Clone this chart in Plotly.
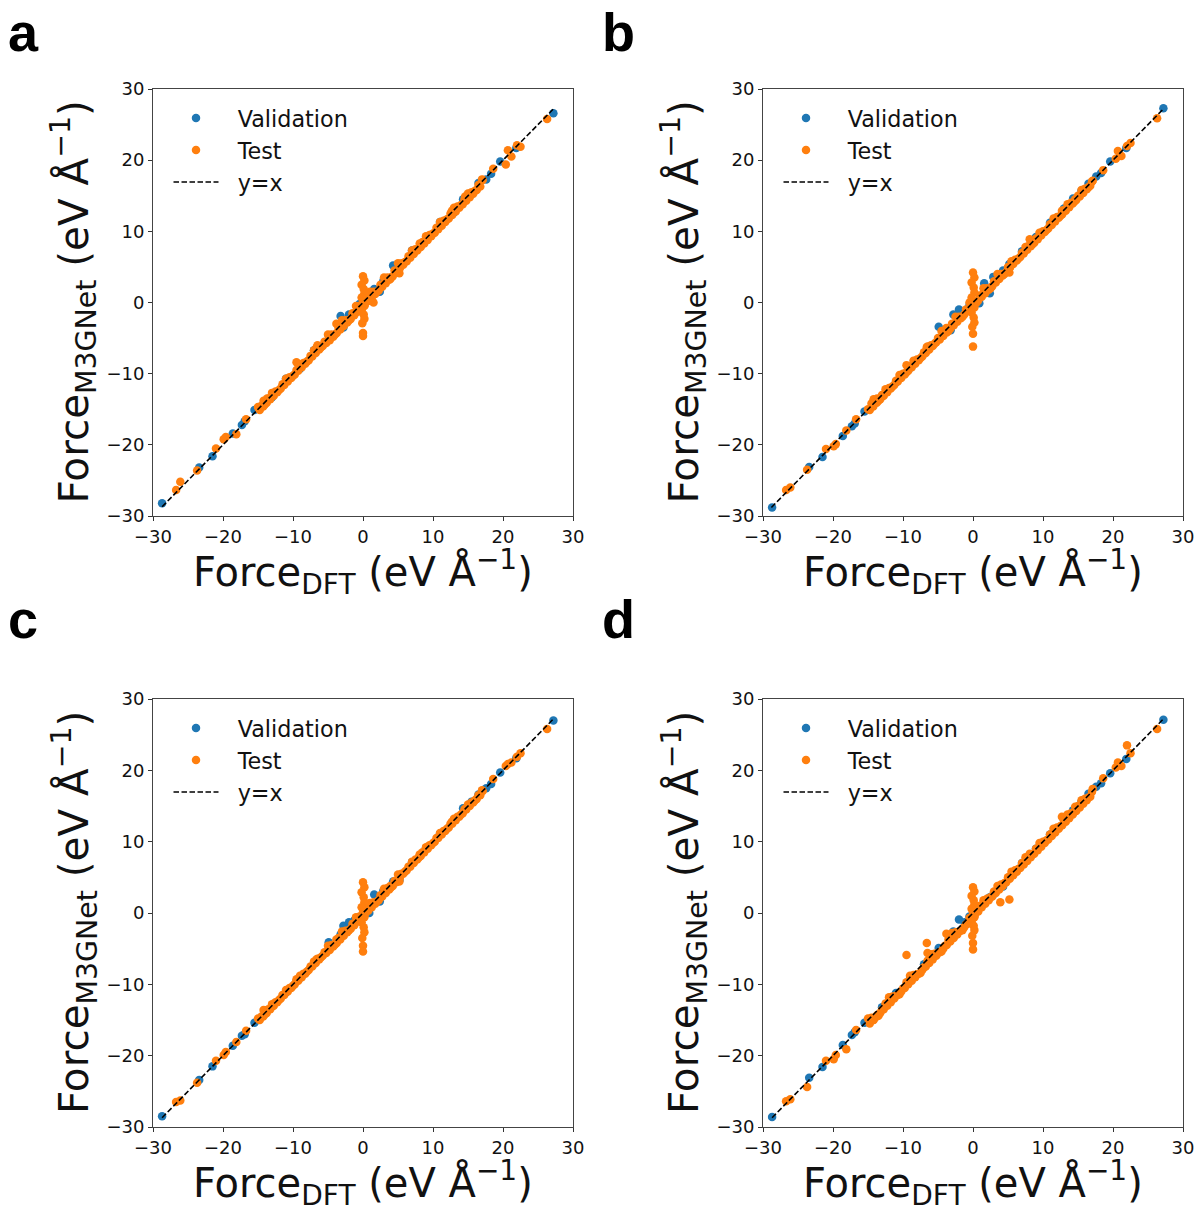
import plotly.graph_objects as go

# ---------------------------------------------------------------------------
# Reference DFT forces (eV/Å); the same structures are predicted by all models
# ---------------------------------------------------------------------------
VAL_DFT = [-28.7, -23.4, -21.5, -18.6, -17.3, -16.9, -15.5, -13.0, -11.0, -9.0,
           -7.0, -4.9, -3.2, -2.8, -2.0, -1.2, -0.5, 0.9, 1.6, 2.4,
           2.9, 4.3, 5.2, 7.0, 9.0, 11.0, 13.0, 14.3, 15.5, 16.5,
           17.6, 18.3, 19.6, 21.9, 27.2]

TEST_DFT_SPARSE = [-26.7, -26.1, -23.7, -21.0, -19.9, -19.6, -18.1, -16.7, -14.2, -13.7,
                   -9.5, -6.6, -6.5, -3.8, 1.5, 3.9, 5.2, 5.3, 8.1, 12.7,
                   14.6, 17.1, 18.6, 20.4, 20.7, 21.2, 22.0, 22.5, 26.3]

TEST_DFT_BAND = [-15.0, -14.5, -14.0, -13.5, -13.0, -12.5, -12.0, -11.5, -11.0, -10.5,
                 -10.0, -9.5, -9.0, -8.5, -8.0, -7.5, -7.0, -6.5, -6.0, -5.5,
                 -5.0, -4.5, -4.0, -3.5, -3.0, -2.5, -2.0, -1.5, -1.0, -0.5,
                 0.0, 0.5, 1.0, 1.5, 2.0, 2.5, 3.0, 3.5, 4.0, 4.5,
                 5.0, 5.5, 6.0, 6.5, 7.0, 7.5, 8.0, 8.5, 9.0, 9.5,
                 10.0, 10.5, 11.0, 11.5, 12.0, 12.5, 13.0, 13.5, 14.0, 14.5,
                 15.0, 15.5, 16.0, 16.5, 17.0]

TEST_DFT_BAND2 = [-14.75, -14.25, -13.75, -13.25, -12.75, -12.25, -11.75, -11.25, -10.75, -10.25,
                  -9.75, -9.25, -8.75, -8.25, -7.75, -7.25, -6.75, -6.25, -5.75, -5.25,
                  -4.75, -4.25, -3.75, -3.25, -2.75, -2.25, -1.75, -1.25, -0.75, -0.25,
                  0.25, 0.75, 1.25, 1.75, 2.25, 2.75, 3.25, 3.75, 4.25, 4.75,
                  5.25, 5.75, 6.25, 6.75, 7.25, 7.75, 8.25, 8.75, 9.25, 9.75,
                  10.25, 10.75, 11.25, 11.75, 12.25, 12.75, 13.25, 13.75, 14.25, 14.75,
                  15.25, 15.75, 16.25, 16.75]

TEST_DFT_SPIKE = [0.0, 0.2, -0.2, 0.1, 0.2, -0.2, 0.0, 0.2, -0.2, 0.1, 0.2, -0.1, 0.0, 0.0]

# ---------------------------------------------------------------------------
# M3GNet predictions, one set per panel
# ---------------------------------------------------------------------------
VAL_PRED_A = [-28.2, -23.2, -21.6, -18.4, -17.2, -16.7, -15.1, -13.3, -10.7, -9.3,
              -6.7, -4.6, -1.9, -3.5, -1.7, -1.5, -0.2, 1.1, 1.9, 1.5,
              3.0, 5.2, 5.0, 7.3, 8.7, 11.3, 12.7, 14.5, 15.2, 16.8,
              17.3, 18.1, 19.8, 21.7, 26.6]
TEST_PRED_SPARSE_A = [-26.35, -25.2, -23.6, -20.5, -19.2, -18.9, -18.5, -16.4, -13.8, -13.5,
                      -8.4, -6.3, -6.0, -3.0, 0.0, 3.3, 4.1, 5.0, 8.3, 12.9,
                      14.9, 17.2, 18.8, 19.4, 21.4, 20.5, 22.1, 21.9, 25.8]
TEST_PRED_BAND_A = [-14.7, -14.5, -14.3, -13.5, -12.7, -12.5, -12.3, -11.5, -10.7, -10.5,
                    -10.3, -9.5, -8.7, -8.5, -8.3, -7.5, -6.7, -6.5, -6.3, -5.5,
                    -4.5, -4.5, -4.5, -3.5, -2.5, -2.5, -2.5, -1.5, -0.5, -0.5,
                    -0.5, 0.5, 1.5, 1.5, 1.5, 2.5, 3.5, 3.5, 3.5, 4.5,
                    5.5, 5.5, 5.7, 6.5, 7.3, 7.5, 7.7, 8.5, 9.3, 9.5,
                    9.7, 10.5, 11.3, 11.5, 11.7, 12.5, 13.3, 13.5, 13.7, 14.5,
                    15.3, 15.5, 15.7, 16.5, 17.3]
TEST_PRED_BAND2_A = [-15.1, -14.6, -14.1, -13.6, -13.1, -12.6, -12.1, -11.6, -11.1, -10.6,
                     -10.1, -9.6, -9.1, -8.6, -8.1, -7.6, -7.1, -6.6, -6.1, -5.7,
                     -5.3, -4.8, -4.3, -3.8, -3.3, -2.8, -2.3, -1.8, -1.3, -0.8,
                     -0.3, 0.2, 0.7, 1.2, 1.7, 2.2, 2.7, 3.2, 3.7, 4.2,
                     4.8, 5.3, 5.8, 6.3, 6.8, 7.3, 7.8, 8.3, 8.8, 9.3,
                     9.8, 10.3, 10.8, 11.3, 11.8, 12.3, 12.8, 13.3, 13.8, 14.3,
                     14.8, 15.3, 15.8, 16.3]
TEST_PRED_SPIKE_A = [3.7, 3.1, 2.5, 1.9, 1.3, 0.7, 0.1, -0.5, -1.1, -1.7, -2.3, -2.9, -4.3, -4.7]

VAL_PRED_B = [-28.8, -23.1, -21.7, -18.75, -17.4, -17.0, -15.3, -13.2, -11.2, -9.2,
              -7.2, -3.4, -3.9, -1.7, -1.0, -1.4, -0.4, -0.1, 2.7, 1.3,
              3.6, 4.5, 5.4, 7.2, 9.2, 11.2, 13.2, 14.6, 15.7, 16.7,
              17.7, 18.2, 19.8, 21.7, 27.3]
TEST_PRED_SPARSE_B = [-26.35, -26.0, -23.5, -20.6, -20.2, -19.9, -18.0, -16.4, -13.6, -13.5,
                      -8.8, -6.3, -6.7, -3.6, 1.3, 3.7, 4.2, 5.0, 8.9, 12.9,
                      14.5, 17.1, 18.6, 20.2, 21.3, 20.6, 22.0, 22.4, 25.9]
TEST_PRED_BAND_B = [-15.0, -14.2, -14.0, -13.8, -13.0, -12.2, -12.0, -11.8, -11.0, -10.2,
                    -10.0, -9.8, -9.0, -8.2, -8.0, -7.8, -7.0, -6.2, -6.0, -5.8,
                    -5.0, -4.0, -4.0, -4.0, -3.0, -2.0, -2.0, -2.0, -1.0, 0.0,
                    0.0, 0.0, 1.0, 2.0, 2.0, 2.0, 3.0, 4.0, 4.0, 4.0,
                    5.0, 5.8, 6.0, 6.2, 7.0, 7.8, 8.0, 8.2, 9.0, 9.8,
                    10.0, 10.2, 11.0, 11.8, 12.0, 12.2, 13.0, 13.8, 14.0, 14.2,
                    15.0, 15.8, 16.0, 16.2, 17.0]
TEST_PRED_BAND2_B = [-15.1, -14.6, -14.1, -13.6, -13.1, -12.6, -12.1, -11.6, -11.1, -10.6,
                     -10.1, -9.6, -9.1, -8.6, -8.1, -7.6, -7.1, -6.6, -6.1, -5.6,
                     -5.2, -4.7, -4.2, -3.7, -3.2, -2.7, -2.2, -1.7, -1.2, -0.7,
                     -0.2, 0.3, 0.8, 1.3, 1.8, 2.3, 2.8, 3.3, 3.8, 4.3,
                     4.9, 5.4, 5.9, 6.4, 6.9, 7.4, 7.9, 8.4, 8.9, 9.4,
                     9.9, 10.4, 10.9, 11.4, 11.9, 12.4, 12.9, 13.4, 13.9, 14.4,
                     14.9, 15.4, 15.9, 16.4]
TEST_PRED_SPIKE_B = [4.2, 3.5, 2.8, 2.1, 1.4, 0.7, 0.0, -0.7, -1.4, -2.1, -2.8, -3.4, -4.4, -6.2]

VAL_PRED_C = [-28.5, -23.4, -21.5, -18.6, -17.2, -17.0, -15.4, -13.1, -11.1, -9.1,
              -7.1, -4.1, -3.0, -1.8, -1.3, -1.0, -0.6, 0.0, 2.6, 1.6,
              3.1, 4.4, 4.6, 7.1, 9.1, 11.1, 13.1, 14.7, 15.6, 16.6,
              17.5, 18.1, 19.7, 21.7, 27.0]
TEST_PRED_SPARSE_C = [-26.5, -26.3, -23.8, -20.7, -19.9, -19.5, -18.1, -16.5, -13.6, -13.6,
                      -9.3, -6.5, -6.4, -3.7, 1.3, 3.8, 4.4, 5.2, 8.2, 12.8,
                      14.6, 17.1, 18.8, 20.6, 20.9, 21.1, 21.9, 22.4, 25.8]
TEST_PRED_BAND_C = [-14.8, -14.5, -14.2, -13.5, -12.8, -12.5, -12.2, -11.5, -10.8, -10.5,
                    -10.2, -9.5, -8.8, -8.5, -8.2, -7.5, -6.8, -6.5, -6.2, -5.5,
                    -4.6, -4.5, -4.4, -3.5, -2.6, -2.5, -2.4, -1.5, -0.6, -0.5,
                    -0.4, 0.5, 1.4, 1.5, 1.6, 2.5, 3.4, 3.5, 3.6, 4.5,
                    5.4, 5.5, 5.8, 6.5, 7.2, 7.5, 7.8, 8.5, 9.2, 9.5,
                    9.8, 10.5, 11.2, 11.5, 11.8, 12.5, 13.2, 13.5, 13.8, 14.5,
                    15.2, 15.5, 15.8, 16.5, 17.2]
TEST_PRED_BAND2_C = [-15.0, -14.5, -14.0, -13.5, -13.0, -12.5, -12.0, -11.5, -11.0, -10.5,
                     -10.0, -9.5, -9.0, -8.5, -8.0, -7.5, -7.0, -6.5, -6.0, -5.6,
                     -5.2, -4.7, -4.2, -3.7, -3.2, -2.7, -2.2, -1.7, -1.2, -0.7,
                     -0.2, 0.3, 0.8, 1.3, 1.8, 2.3, 2.8, 3.3, 3.8, 4.3,
                     4.9, 5.5, 6.0, 6.5, 7.0, 7.5, 8.0, 8.5, 9.0, 9.5,
                     10.0, 10.5, 11.0, 11.5, 12.0, 12.5, 13.0, 13.5, 14.0, 14.5,
                     15.0, 15.5, 16.0, 16.5]
TEST_PRED_SPIKE_C = [4.3, 3.6, 2.9, 2.2, 1.5, 0.8, 0.1, -0.6, -1.3, -2.0, -2.7, -3.5, -4.6, -5.4]

VAL_PRED_D = [-28.6, -23.1, -21.6, -18.5, -17.1, -16.7, -15.4, -13.2, -11.2, -9.2,
              -7.2, -4.9, -3.0, -2.6, -0.9, -1.3, -0.5, 0.7, 1.4, 2.2,
              2.6, 3.7, 5.0, 7.0, 9.0, 11.0, 13.0, 14.4, 15.6, 16.7,
              17.7, 18.2, 19.6, 21.6, 27.1]
TEST_PRED_SPARSE_D = [-26.4, -26.1, -24.4, -20.7, -20.5, -19.9, -19.1, -16.4, -15.0, -14.3,
                      -5.9, -4.2, -5.6, -2.9, 1.3, 1.5, 1.9, 5.1, 8.3, 13.5,
                      14.9, 17.4, 18.9, 20.4, 21.1, 20.6, 23.5, 22.4, 25.8]
TEST_PRED_BAND_D = [-14.8, -14.7, -14.6, -14.4, -13.6, -12.7, -11.8, -11.7, -11.6, -11.4,
                    -10.6, -9.7, -8.8, -8.7, -8.6, -8.4, -7.6, -6.7, -5.8, -5.7,
                    -5.6, -5.4, -4.6, -3.7, -2.8, -2.7, -2.6, -2.4, -1.6, -0.7,
                    0.2, 0.3, 1.0, 1.8, 2.0, 2.2, 3.0, 3.8, 4.0, 4.2,
                    5.0, 5.8, 6.0, 6.2, 7.0, 7.8, 8.0, 8.2, 9.0, 9.8,
                    10.0, 10.2, 11.0, 11.8, 12.0, 12.2, 13.0, 13.8, 14.0, 14.2,
                    15.0, 15.8, 16.0, 16.2, 17.0]
TEST_PRED_BAND2_D = [-15.5, -15.0, -14.5, -14.0, -13.5, -13.0, -12.5, -12.0, -11.5, -11.0,
                     -10.5, -10.0, -9.5, -9.0, -8.5, -8.0, -7.5, -7.0, -6.5, -6.0,
                     -5.5, -5.0, -4.5, -4.0, -3.5, -3.0, -2.5, -2.0, -1.5, -0.9,
                     -0.3, 0.2, 0.8, 1.3, 1.8, 2.3, 2.8, 3.3, 3.8, 4.3,
                     4.8, 5.3, 5.8, 6.3, 6.8, 7.3, 7.8, 8.3, 8.8, 9.3,
                     9.8, 10.3, 10.8, 11.3, 11.8, 12.3, 12.8, 13.3, 13.8, 14.3,
                     14.8, 15.3, 15.8, 16.3]
TEST_PRED_SPIKE_D = [3.6, 3.0, 2.4, 1.8, 1.2, 0.6, 0.0, -0.6, -1.2, -1.8, -2.4, -3.2, -4.2, -5.1]

PANEL_LABELS = ["a", "b", "c", "d"]
TICK_VALUES = [-30, -20, -10, 0, 10, 20, 30]
TICK_TEXT = ["\u221230", "\u221220", "\u221210", "0", "10", "20", "30"]
SERIES_NAMES = ["Validation", "Test", "y=x"]

PANELS = [
    (VAL_PRED_A, TEST_PRED_SPARSE_A, TEST_PRED_BAND_A, TEST_PRED_BAND2_A, TEST_PRED_SPIKE_A),
    (VAL_PRED_B, TEST_PRED_SPARSE_B, TEST_PRED_BAND_B, TEST_PRED_BAND2_B, TEST_PRED_SPIKE_B),
    (VAL_PRED_C, TEST_PRED_SPARSE_C, TEST_PRED_BAND_C, TEST_PRED_BAND2_C, TEST_PRED_SPIKE_C),
    (VAL_PRED_D, TEST_PRED_SPARSE_D, TEST_PRED_BAND_D, TEST_PRED_BAND2_D, TEST_PRED_SPIKE_D),
]

# ---------------------------------------------------------------------------
# Layout geometry (pixels)
# ---------------------------------------------------------------------------
W, H = 1198, 1206
BOXES = [(153, 573, 89, 516), (763, 1183, 89, 516),
         (153, 573, 699, 1127), (763, 1183, 699, 1127)]
LETTER_POS = [(23, 32), (618, 32), (23, 619), (618, 619)]

BLUE = "#1f77b4"
ORANGE = "#ff7f0e"
FONT = "DejaVu Sans"
MARKER = 8.5
PAD = "\u00a0\u00a0"  # gap between legend key and label

fig = go.Figure()
layout = dict(
    width=W, height=H, margin=dict(l=0, r=0, t=0, b=0, autoexpand=False),
    paper_bgcolor="white", plot_bgcolor="white",
    font=dict(family=FONT, color="black"),
    annotations=[],
)

test_dft = TEST_DFT_SPARSE + TEST_DFT_BAND + TEST_DFT_BAND2 + TEST_DFT_SPIKE

for i, (val_pred, t_sparse, t_band, t_band2, t_spike) in enumerate(PANELS):
    n = "" if i == 0 else str(i + 1)
    xa, ya = "x" + n, "y" + n
    leg = "legend" + n
    test_pred = t_sparse + t_band + t_band2 + t_spike
    assert len(test_pred) == len(test_dft) and len(val_pred) == len(VAL_DFT)

    fig.add_trace(go.Scatter(
        x=VAL_DFT, y=val_pred, mode="markers", name=PAD + SERIES_NAMES[0],
        marker=dict(color=BLUE, size=MARKER, line=dict(width=0)),
        xaxis=xa, yaxis=ya, legend=leg, showlegend=True))
    fig.add_trace(go.Scatter(
        x=test_dft, y=test_pred, mode="markers", name=PAD + SERIES_NAMES[1],
        marker=dict(color=ORANGE, size=MARKER, line=dict(width=0)),
        xaxis=xa, yaxis=ya, legend=leg, showlegend=True))

    lo = min(VAL_DFT + test_dft + val_pred + test_pred)
    hi = max(VAL_DFT + test_dft + val_pred + test_pred)
    fig.add_trace(go.Scatter(
        x=[lo, hi], y=[lo, hi], mode="lines", name=PAD + SERIES_NAMES[2],
        line=dict(color="black", width=1.6, dash="5.5px,2.5px"),
        xaxis=xa, yaxis=ya, legend=leg, showlegend=True))

    x0, x1, y0, y1 = BOXES[i]
    axis_common = dict(
        range=[-30, 30], tickmode="array", tickvals=TICK_VALUES, ticktext=TICK_TEXT,
        ticks="outside", ticklen=4, tickwidth=1, tickcolor="#333",
        showline=True, linecolor="#444", linewidth=1, mirror=True, automargin=False,
        showgrid=False, zeroline=False, tickfont=dict(family=FONT, size=18, color="#111"),
    )
    layout["xaxis" + n] = dict(axis_common, domain=[x0 / W, x1 / W], anchor=ya)
    layout["yaxis" + n] = dict(axis_common, domain=[1 - y1 / H, 1 - y0 / H], anchor=xa)

    layout[leg] = dict(
        x=(x0 + 15.5) / W, y=1 - (y0 + 8) / H, xanchor="left", yanchor="top",
        bgcolor="rgba(0,0,0,0)", borderwidth=0,
        font=dict(family=FONT, size=22.3, color="#111"), itemwidth=45,
        tracegroupgap=0,
    )

    cx = (x0 + x1) / 2
    cy = (y0 + y1) / 2
    lx, ly = LETTER_POS[i]
    layout["annotations"] += [
        dict(text="Force<sub>DFT</sub> (eV Å<sup>\u22121</sup>)", x=cx / W, y=1 - (y1 + 56) / H,
             xref="paper", yref="paper", xanchor="center", yanchor="middle",
             showarrow=False, font=dict(family=FONT, size=40, color="#111")),
        dict(text="Force<sub>M3GNet</sub> (eV Å<sup>\u22121</sup>)", x=(x0 - 79) / W, y=1 - cy / H,
             xref="paper", yref="paper", xanchor="center", yanchor="middle", textangle=-90,
             showarrow=False, font=dict(family=FONT, size=40.5, color="#111")),
        dict(text="<b>%s</b>" % PANEL_LABELS[i], x=lx / W, y=1 - ly / H,
             xref="paper", yref="paper", xanchor="center", yanchor="middle",
             showarrow=False, font=dict(family="Liberation Sans", size=54, color="black")),
    ]

fig.update_layout(**layout)
fig.write_html("out.html")
